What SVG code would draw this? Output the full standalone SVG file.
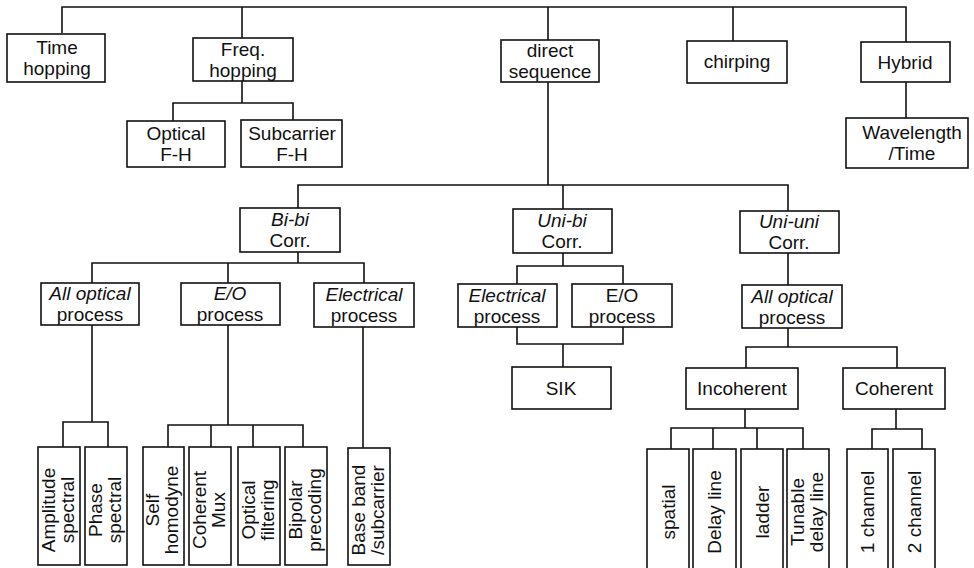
<svg xmlns="http://www.w3.org/2000/svg" width="974" height="568" viewBox="0 0 974 568">
<style>
.b{fill:#fff;stroke:#111;stroke-width:1.6}
.c{fill:none;stroke:#111;stroke-width:1.6}
text{font-family:"Liberation Sans",Arial,sans-serif;font-size:19px;fill:#111;text-anchor:middle}
.i{font-style:italic}
</style>
<rect width="974" height="568" fill="#fff"/>
<g id="connectors" class="c">
<path d="M62,33V7H906V42M242,7V38M548,7V40M733,7V41"/>
<path d="M242,81V103M173,121V103H293V120"/>
<path d="M906,82V118"/>
<path d="M548,82V185M298,208V185H788V211M563,185V209"/>
<path d="M298,252V263M92,283V263H364V283M228,263V283"/>
<path d="M563,253V266M517,284V266H623V284M517,327V344H623V327M563,344V367"/>
<path d="M788,253V285M788,328V347M746,368V347H897V368"/>
<path d="M92,325V422M63,447V422H108V447"/>
<path d="M228,325V425M168,447V425H303V447M211,425V447M253,425V447"/>
<path d="M363,327V448"/>
<path d="M745,409V428M671,449V428H803V449M713,428V449M757,428V449"/>
<path d="M896,409V429M872,449V429H922V449"/>
</g>
<g id="time"><rect class="b" x="7" y="34" width="98" height="48"/><text x="57" y="54">Time</text><text x="57" y="75">hopping</text></g>
<g id="freq"><rect class="b" x="193" y="38" width="100" height="43"/><text x="243" y="56">Freq.</text><text x="243" y="77">hopping</text></g>
<g id="direct"><rect class="b" x="501" y="40" width="98" height="42"/><text x="550" y="57">direct</text><text x="550" y="78">sequence</text></g>
<g id="chirping"><rect class="b" x="687" y="41" width="100" height="42"/><text x="737" y="68">chirping</text></g>
<g id="hybrid"><rect class="b" x="861" y="42" width="89" height="40"/><text x="905" y="69">Hybrid</text></g>
<g id="optical"><rect class="b" x="127" y="121" width="98" height="46"/><text x="176" y="140">Optical</text><text x="176" y="161">F-H</text></g>
<g id="subcarrier"><rect class="b" x="241" y="120" width="101" height="47"/><text x="292" y="140">Subcarrier</text><text x="292" y="161">F-H</text></g>
<g id="wavelength"><rect class="b" x="846" y="118" width="122" height="50"/><text x="912" y="139">Wavelength</text><text x="912" y="160">/Time</text></g>
<g id="bibi"><rect class="b" x="240" y="208" width="100" height="44"/><text class="i" x="290" y="226">Bi-bi</text><text x="290" y="247">Corr.</text></g>
<g id="unibi"><rect class="b" x="513" y="209" width="99" height="44"/><text class="i" x="562" y="227">Uni-bi</text><text x="562" y="248">Corr.</text></g>
<g id="uniuni"><rect class="b" x="740" y="211" width="99" height="42"/><text class="i" x="789" y="228">Uni-uni</text><text x="789" y="249">Corr.</text></g>
<g id="allopt1"><rect class="b" x="41" y="283" width="98" height="42"/><text class="i" x="90" y="300">All optical</text><text x="90" y="321">process</text></g>
<g id="eo1"><rect class="b" x="181" y="283" width="99" height="42"/><text class="i" x="230" y="300">E/O</text><text x="230" y="321">process</text></g>
<g id="elec1"><rect class="b" x="314" y="283" width="100" height="44"/><text class="i" x="364" y="301">Electrical</text><text x="364" y="322">process</text></g>
<g id="elec2"><rect class="b" x="458" y="284" width="99" height="43"/><text class="i" x="507" y="302">Electrical</text><text x="507" y="323">process</text></g>
<g id="eo2"><rect class="b" x="572" y="284" width="100" height="43"/><text x="622" y="302">E/O</text><text x="622" y="323">process</text></g>
<g id="sik"><rect class="b" x="512" y="367" width="99" height="42"/><text x="561" y="395">SIK</text></g>
<g id="allopt2"><rect class="b" x="742" y="285" width="100" height="43"/><text class="i" x="792" y="303">All optical</text><text x="792" y="324">process</text></g>
<g id="incoherent"><rect class="b" x="686" y="368" width="112" height="41"/><text x="742" y="395">Incoherent</text></g>
<g id="coherent"><rect class="b" x="843" y="368" width="102" height="41"/><text x="894" y="395">Coherent</text></g>
<g id="amplitude"><rect class="b" x="38" y="447" width="42" height="118"/><text transform="translate(59,510) rotate(-90)"><tspan x="0" y="-4">Amplitude</tspan><tspan x="0" y="15">spectral</tspan></text></g>
<g id="phase"><rect class="b" x="85" y="447" width="42" height="118"/><text transform="translate(106,510) rotate(-90)"><tspan x="0" y="-4">Phase</tspan><tspan x="0" y="15">spectral</tspan></text></g>
<g id="self"><rect class="b" x="143" y="447" width="41" height="118"/><text transform="translate(163,510) rotate(-90)"><tspan x="0" y="-4">Self</tspan><tspan x="0" y="15">homodyne</tspan></text></g>
<g id="cmux"><rect class="b" x="189" y="447" width="42" height="118"/><text transform="translate(210,510) rotate(-90)"><tspan x="0" y="-4">Coherent</tspan><tspan x="0" y="15">Mux</tspan></text></g>
<g id="optfilt"><rect class="b" x="238" y="447" width="42" height="118"/><text transform="translate(259,510) rotate(-90)"><tspan x="0" y="-4">Optical</tspan><tspan x="0" y="15">filtering</tspan></text></g>
<g id="bipolar"><rect class="b" x="285" y="447" width="42" height="118"/><text transform="translate(306,510) rotate(-90)"><tspan x="0" y="-4">Bipolar</tspan><tspan x="0" y="15">precoding</tspan></text></g>
<g id="baseband"><rect class="b" x="348" y="448" width="42" height="117"/><text transform="translate(369,510) rotate(-90)"><tspan x="0" y="-4">Base band</tspan><tspan x="0" y="15">/subcarrier</tspan></text></g>
<g id="spatial"><rect class="b" x="647" y="449" width="42" height="125"/><text transform="translate(668,512) rotate(-90)"><tspan x="0" y="7">spatial</tspan></text></g>
<g id="delay"><rect class="b" x="693" y="449" width="43" height="125"/><text transform="translate(714,512) rotate(-90)"><tspan x="0" y="7">Delay line</tspan></text></g>
<g id="ladder"><rect class="b" x="741" y="449" width="42" height="125"/><text transform="translate(762,512) rotate(-90)"><tspan x="0" y="7">ladder</tspan></text></g>
<g id="tunable"><rect class="b" x="787" y="449" width="42" height="125"/><text transform="translate(808,512) rotate(-90)"><tspan x="0" y="-4">Tunable</tspan><tspan x="0" y="15">delay line</tspan></text></g>
<g id="ch1"><rect class="b" x="847" y="449" width="41" height="125"/><text transform="translate(867,512) rotate(-90)"><tspan x="0" y="7">1 channel</tspan></text></g>
<g id="ch2"><rect class="b" x="893" y="449" width="42" height="125"/><text transform="translate(914,512) rotate(-90)"><tspan x="0" y="7">2 channel</tspan></text></g>
</svg>
